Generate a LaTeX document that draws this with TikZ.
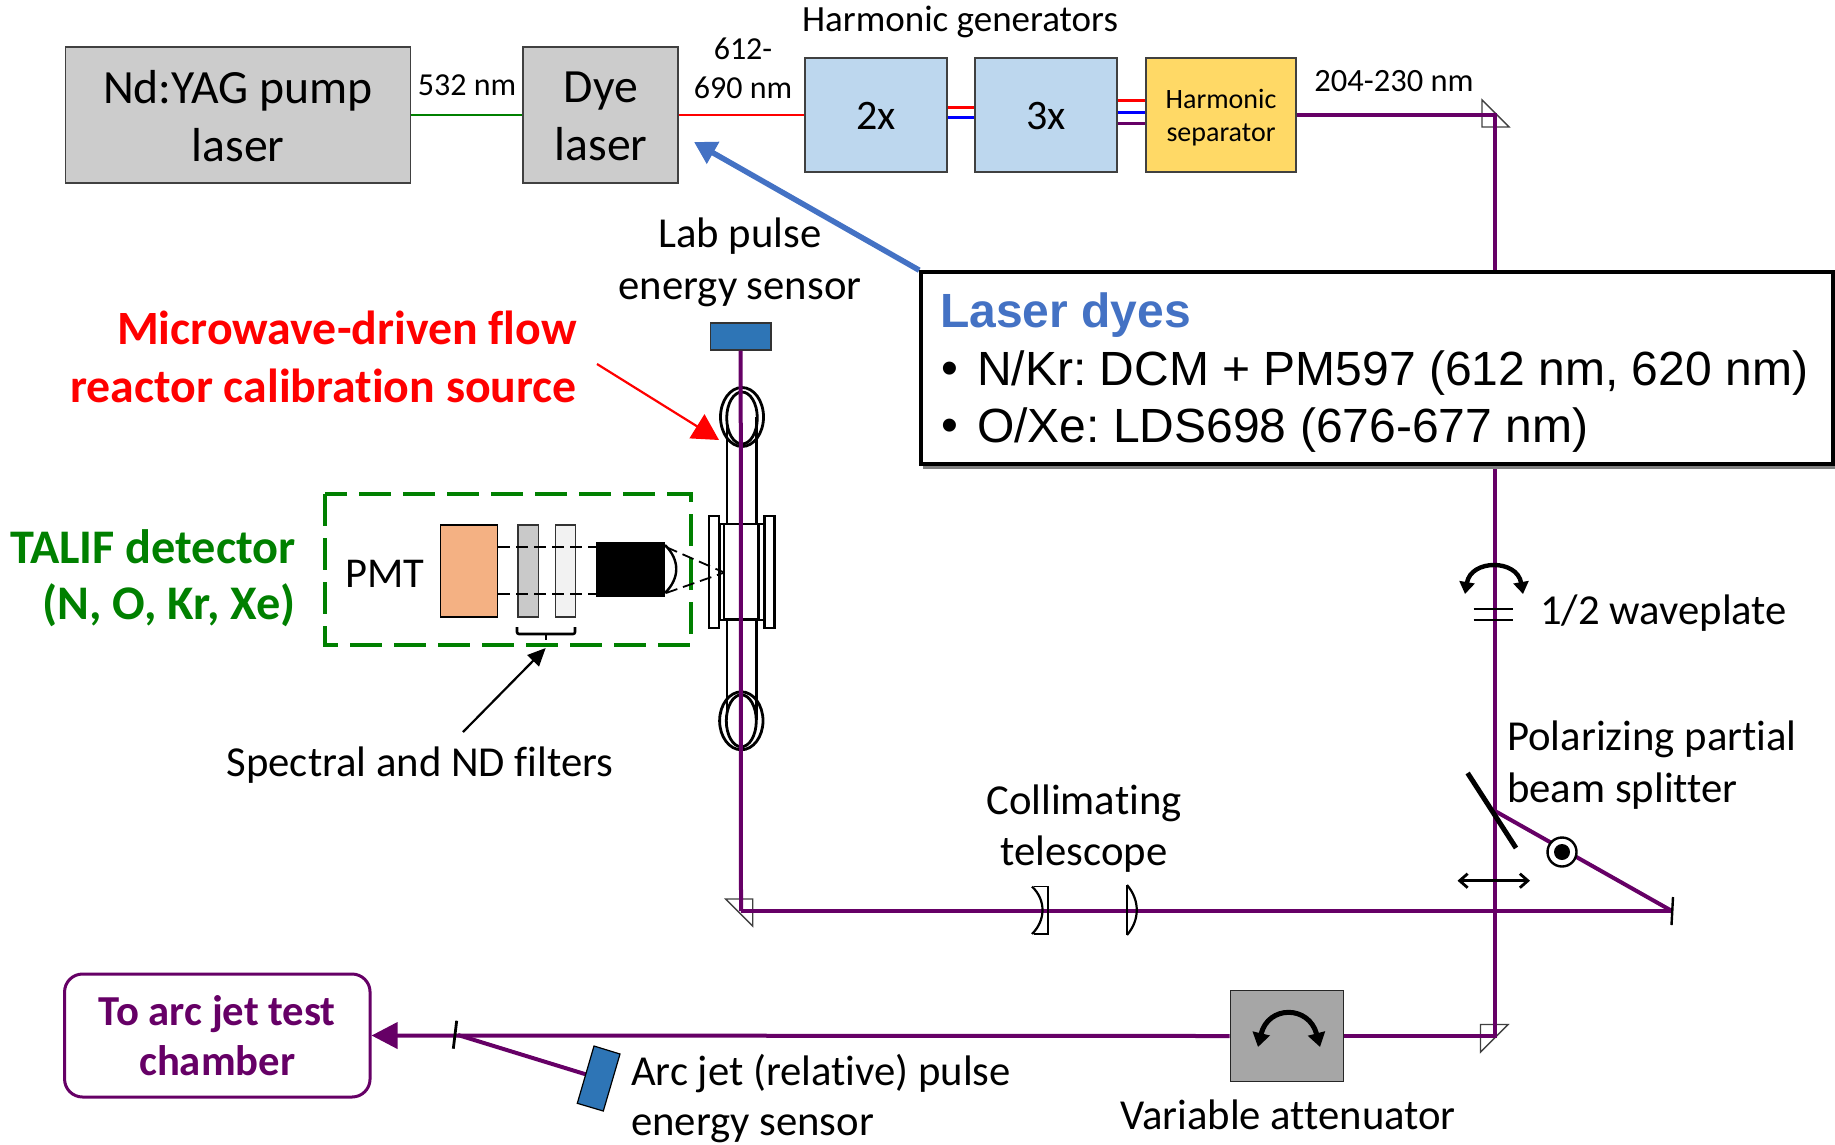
\documentclass[tikz,border=0pt]{standalone}
\usepackage{fontspec}
\setmainfont[Ligatures=NoCommon]{Carlito}
\newfontfamily\arialf{Liberation Sans}
\usetikzlibrary{arrows.meta,shadows,calc}
\definecolor{beam}{HTML}{660066}
\definecolor{lblue}{HTML}{BDD7EE}
\definecolor{dblue}{HTML}{2E75B6}
\definecolor{tblue}{HTML}{4472C4}
\definecolor{yel}{HTML}{FFD966}
\definecolor{org}{HTML}{F4B183}
\definecolor{ltgreen}{HTML}{008000}
\newcommand{\fz}[2]{\fontsize{#1}{#2}\selectfont\frenchspacing}
\tikzset{
 x=1pt,y=-1pt,
 box/.style={draw=black!75,line width=1.2pt,inner sep=0pt,align=center},
 lab/.style={inner sep=0pt,align=center,text=black},
 labl/.style={inner sep=0pt,align=left,text=black},
 beamline/.style={draw=beam,line width=4pt},
 thinb/.style={line width=2.8pt},
 optic/.style={draw=black,line width=2.8pt,fill=white},
 prism/.style={draw=black!75,line width=1.4pt},
}
\begin{document}
\begin{tikzpicture}
\useasboundingbox (0,0) rectangle (1835,1144);
% coordinates
\coordinate (pa) at (1495,115);
\coordinate (pb) at (1495,911);
\coordinate (pc) at (1495,1036);
\coordinate (pd) at (741,911);
\coordinate (pe) at (741,350);
\coordinate (pf) at (1672,911);
\coordinate (pg) at (1495,811);
\coordinate (ph) at (458,1035);
\coordinate (sensorbase) at (588,1075);
% prisms under the beams
\draw[prism] (1482,100) -- (1482,127) -- (1509,127) -- cycle;
\draw[prism] (1480.5,1024.5) -- (1508,1024.5) -- (1480.5,1052) -- cycle;
\draw[prism] (725.7,899) -- (752.7,899) -- (752.7,926) -- cycle;
% boxes
\node[box,fill=black!20,minimum width=345pt,minimum height=136pt] (yag) at (238,115) {};
\node[lab,font=\fz{47.7}{57.5}] (yagt) at (238,116) {Nd:YAG pump\\laser};
\node[box,fill=black!20,minimum width=155pt,minimum height=136pt] (dye) at (600.5,115) {};
\node[lab,font=\fz{47.7}{57.5}] (dyet) at (601,116.5) {Dye\\laser};
\node[box,fill=lblue,minimum width=142pt,minimum height=114pt] (xtwo) at (876,115) {};
\node[lab,font=\fz{42}{50}] (xtwot) at (876,116) {2x};
\node[box,fill=lblue,minimum width=142pt,minimum height=114pt] (xthree) at (1046,115) {};
\node[lab,font=\fz{42}{50}] (xthreet) at (1046,116) {3x};
\node[box,fill=yel,minimum width=150pt,minimum height=114pt] (sep) at (1221,115) {};
\node[lab,font=\fz{28}{33}] (sept) at (1221,117.5) {Harmonic\\separator};
% coloured links
\draw[ltgreen,thinb] (yag) -- (dye);
\draw[red,thinb] (dye) -- (xtwo);
\draw[red,line width=3pt] (xtwo.east |- 0,107) -- (xthree.west |- 0,107);
\draw[blue,line width=3pt] (xtwo.east |- 0,117) -- (xthree.west |- 0,117);
\draw[red,line width=3pt] (xthree.east |- 0,100) -- (sep.west |- 0,100);
\draw[blue,line width=3pt] (xthree.east |- 0,112) -- (sep.west |- 0,112);
\draw[beam,line width=3pt] (xthree.east |- 0,123) -- (sep.west |- 0,123);
% flow reactor
\draw[black,line width=2.8pt] (727,417) -- (727,524) (756.3,417) -- (756.3,524) (727,619) -- (727,720) (756.3,619) -- (756.3,720);
\draw[black,line width=2.8pt] (742,417) ellipse [x radius=21.5,y radius=29.5];
\draw[black,line width=2.8pt] (742,418) ellipse [x radius=15.3,y radius=26];
\draw[black,line width=2.8pt] (741.3,720.8) ellipse [x radius=21.7,y radius=29];
\draw[black,line width=2.8pt] (741.3,720.8) ellipse [x radius=15,y radius=26];
\draw[optic] (719.3,524) rectangle (764,620);
\draw[optic] (724,524) rectangle (758.7,619.3);
\draw[optic] (709,516) rectangle (719,628);
\draw[optic] (764.3,516) rectangle (774.3,628);
% sensor and main beam
\node[draw=black!80,line width=1.2pt,fill=dblue,minimum width=60.5pt,minimum height=27pt,inner sep=0pt] (lab) at (740.7,336.5) {};
\node[draw=black!85,line width=1.2pt,fill=black!35,minimum width=113.6pt,minimum height=91pt,inner sep=0pt] (atten) at (1287,1036) {};
\draw[beamline] (sep.east |- pa) -- (pa) -- (pc) -- (atten.east);
\draw[beamline] (pd) -- (pf);
\draw[beamline] (pg) -- (pf);
\draw[beamline] (lab.south) -- (pd);
% lower beam
\node[draw=beam,line width=3pt,rounded corners=18pt,minimum width=305.5pt,minimum height=123pt,inner sep=0pt,text=beam,align=center,font=\fz{42.7}{50}\bfseries] (arc) at (217.3,1035.5) {To arc jet test\\chamber};
\draw[beamline,-{Triangle[length=26pt,width=26pt]}] (atten.west) -- (arc.east);
\draw[beamline] (ph) -- (sensorbase);
\draw[black,line width=2.8pt] (456.7,1020.7) -- (453.3,1048.7);
\draw[draw=black,line width=1.2pt,fill=dblue] (594,1046) -- (620,1054) -- (603.3,1111) -- (577.3,1103.3) -- cycle;
% TALIF detector
\draw[ltgreen,line width=3.6pt,dash pattern=on 32pt off 12pt] (325,494) rectangle (691,645);
\node[box,draw=black,fill=org,minimum width=57pt,minimum height=92pt] (pmtbox) at (469,571) {};
\node[box,draw=black!80,fill=black!21,minimum width=20.5pt,minimum height=92pt] (fa) at (528.2,571) {};
\node[box,draw=black!80,fill=black!5,minimum width=20pt,minimum height=92pt] (fb) at (565.7,571) {};
\node[fill=black,minimum width=69pt,minimum height=55pt,inner sep=0pt] (cam) at (630.5,569.5) {};
\draw[black,line width=1.8pt,dash pattern=on 12pt off 6pt] (pmtbox.east |- 0,547) -- (cam.west |- 0,547);
\draw[black,line width=1.8pt,dash pattern=on 12pt off 6pt] (pmtbox.east |- 0,593.7) -- (cam.west |- 0,593.7);
\draw[black,line width=2.4pt] (665,545) .. controls (680,560) and (680,578) .. (665,593);
\draw[black,line width=1.8pt,dash pattern=on 12pt off 6pt] (666,547) -- (723,572);
\draw[black,line width=1.8pt,dash pattern=on 12pt off 6pt] (666,593) -- (723,573);
\draw[black,line width=2.6pt,rounded corners=2pt] (517,627) -- (517,634) -- (575,634) -- (575,627);
\draw[black,line width=2.6pt] (546,634) -- (546,640);
\coordinate (bracetip) at (545.7,648);
\coordinate (bracetail) at (463,732);
\draw[black,line width=2.2pt,-{Triangle[length=18pt,width=16pt]}] (bracetail) -- (bracetip);
\coordinate (rtail) at (597,364);
\coordinate (rtip) at (719,440);
\draw[red,line width=2.2pt,-{Triangle[length=26pt,width=28pt]}] (rtail) -- (rtip);
% optics on right side
\draw[black,line width=2.8pt] (1473.6,609) -- (1512.6,609) (1473.6,620) -- (1512.6,620);
\draw[black,line width=4.4pt,{Triangle[length=12pt,width=15pt]}-{Triangle[length=12pt,width=15pt]}] (1465,594) .. controls (1471,559) and (1517,559) .. (1523,594);
\draw[black,line width=5pt] (1467.6,773) -- (1516,848);
\draw[black,line width=2.8pt,{Straight Barb[length=8pt,width=14pt]}-{Straight Barb[length=8pt,width=14pt]}] (1457.5,880.7) -- (1530,880.7);
\draw[black,line width=2.4pt,fill=white] (1562,852) circle [radius=14.5];
\fill[black] (1562,852) circle [radius=8];
\draw[black,line width=2.4pt] (1673,897) -- (1671.5,925);
\draw[black,line width=1.2pt] (1034,886.5) -- (1048,886.5) -- (1048,934) -- (1034,934);
\draw[black,line width=2.2pt] (1032,886.5) .. controls (1046,900) and (1046,920) .. (1032,934);
\draw[black,line width=2.2pt] (1127,885) -- (1127,935);
\draw[black,line width=2.2pt] (1127,885) .. controls (1140,900) and (1140,920) .. (1127,935);
\draw[black,line width=5pt,{Triangle[length=14pt,width=17pt]}-{Triangle[length=14pt,width=17pt]}] (1258,1047) .. controls (1268,1005) and (1309,1005) .. (1320,1047);
% laser dyes
\node[draw=black,line width=3.6pt,fill=white,minimum width=912pt,minimum height=192pt,inner sep=0pt,drop shadow={shadow xshift=2pt,shadow yshift=-5pt,fill=black!50,opacity=1}] (dyes) at (1377,368) {};
\coordinate (dyetip) at (694,142);
\draw[tblue,line width=5.5pt,-{Triangle[length=22pt,width=24pt]}] (dyes.north west) -- (dyetip);
\node[anchor=west,inner sep=0pt,text=tblue,font=\arialf\fz{48}{56}\bfseries] (dyetitle) at (940,315.5) {Laser dyes};
\node[anchor=west,inner sep=0pt,font=\arialf\fz{48}{56}] (bua) at (941,373.5) {•};
\node[anchor=west,inner sep=0pt,font=\arialf\fz{48}{56}] (dyea) at (977,373.5) {N/Kr: DCM + PM597 (612 nm, 620 nm)};
\node[anchor=west,inner sep=0pt,font=\arialf\fz{48}{56}] (bub) at (941,430.5) {•};
\node[anchor=west,inner sep=0pt,font=\arialf\fz{48}{56}] (dyeb) at (977,430.5) {O/Xe: LDS698 (676-677 nm)};
% labels
\node[lab,font=\fz{32}{39}] (ta) at (467,85.5) {532 nm};
\node[lab,font=\fz{32}{39.5}] (tb) at (743,68.5) {612-\\690 nm};
\node[lab,font=\fz{37}{44}] (tc) at (960,22) {Harmonic generators};
\node[lab,font=\fz{32.5}{39}] (td) at (1394,81) {204-230 nm};
\node[lab,font=\fz{42.7}{51.5}] (te) at (740,262.5) {Lab pulse\\energy sensor};
\node[anchor=east,inner sep=0pt,align=right,text=red,font=\fz{47.8}{58}\bfseries] (tf) at (577,357) {Microwave-driven flow\\reactor calibration source};
\node[anchor=east,inner sep=0pt,align=right,text=ltgreen,font=\fz{48.3}{56}\bfseries] (tg) at (296,578.5) {TALIF detector\\(N, O, Kr, Xe)};
\node[lab,font=\fz{42.5}{50}] (th) at (385,574) {PMT};
\node[lab,font=\fz{42.7}{50}] (ti) at (420,765) {Spectral and ND filters};
\node[lab,font=\fz{42.7}{50.5}] (tj) at (1084,828.5) {Collimating\\telescope};
\node[anchor=west,labl,font=\fz{42.7}{50}] (tk) at (1540,613) {1/2 waveplate};
\node[anchor=west,labl,font=\fz{42.7}{51.5}] (tl) at (1507,765) {Polarizing partial\\beam splitter};
\node[anchor=west,labl,font=\fz{42.7}{50}] (tm) at (631,1099) {Arc jet (relative) pulse\\energy sensor};
\node[lab,font=\fz{42.7}{50}] (tn) at (1288,1115) {Variable attenuator};
\end{tikzpicture}
\end{document}
